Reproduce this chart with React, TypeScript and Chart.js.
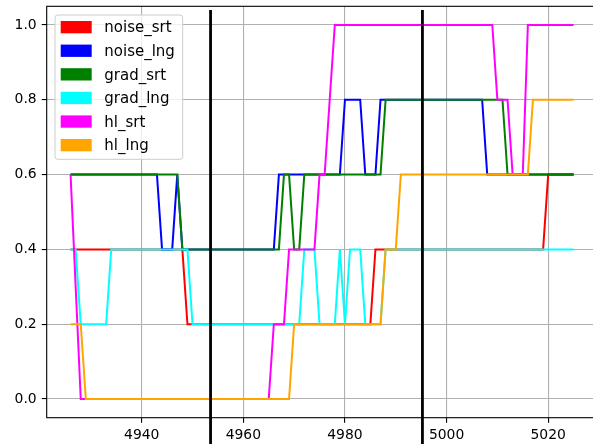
import React, { useEffect, useRef } from "react";
import { Chart, registerables } from "chart.js";

Chart.register(...registerables);

const steps = [
  4926, 4927, 4928, 4929, 4930, 4931, 4932, 4933, 4934, 4935,
  4936, 4937, 4938, 4939, 4940, 4941, 4942, 4943, 4944, 4945,
  4946, 4947, 4948, 4949, 4950, 4951, 4952, 4953, 4954, 4955,
  4956, 4957, 4958, 4959, 4960, 4961, 4962, 4963, 4964, 4965,
  4966, 4967, 4968, 4969, 4970, 4971, 4972, 4973, 4974, 4975,
  4976, 4977, 4978, 4979, 4980, 4981, 4982, 4983, 4984, 4985,
  4986, 4987, 4988, 4989, 4990, 4991, 4992, 4993, 4994, 4995,
  4996, 4997, 4998, 4999, 5000, 5001, 5002, 5003, 5004, 5005,
  5006, 5007, 5008, 5009, 5010, 5011, 5012, 5013, 5014, 5015,
  5016, 5017, 5018, 5019, 5020, 5021, 5022, 5023, 5024, 5025,
];

const noiseSrt = [
  0.4, 0.4, 0.4, 0.4, 0.4, 0.4, 0.4, 0.4, 0.4, 0.4,
  0.4, 0.4, 0.4, 0.4, 0.4, 0.4, 0.4, 0.4, 0.4, 0.4,
  0.4, 0.4, 0.4, 0.2, 0.2, 0.2, 0.2, 0.2, 0.2, 0.2,
  0.2, 0.2, 0.2, 0.2, 0.2, 0.2, 0.2, 0.2, 0.2, 0.2,
  0.2, 0.2, 0.2, 0.2, 0.2, 0.2, 0.2, 0.2, 0.2, 0.2,
  0.2, 0.2, 0.2, 0.2, 0.2, 0.2, 0.2, 0.2, 0.2, 0.2,
  0.4, 0.4, 0.4, 0.4, 0.4, 0.4, 0.4, 0.4, 0.4, 0.4,
  0.4, 0.4, 0.4, 0.4, 0.4, 0.4, 0.4, 0.4, 0.4, 0.4,
  0.4, 0.4, 0.4, 0.4, 0.4, 0.4, 0.4, 0.4, 0.4, 0.4,
  0.4, 0.4, 0.4, 0.4, 0.6, 0.6, 0.6, 0.6, 0.6, 0.6,
];

const noiseLng = [
  0.6, 0.6, 0.6, 0.6, 0.6, 0.6, 0.6, 0.6, 0.6, 0.6,
  0.6, 0.6, 0.6, 0.6, 0.6, 0.6, 0.6, 0.6, 0.4, 0.4,
  0.4, 0.6, 0.4, 0.4, 0.4, 0.4, 0.4, 0.4, 0.4, 0.4,
  0.4, 0.4, 0.4, 0.4, 0.4, 0.4, 0.4, 0.4, 0.4, 0.4,
  0.4, 0.6, 0.6, 0.6, 0.6, 0.6, 0.6, 0.6, 0.6, 0.6,
  0.6, 0.6, 0.6, 0.6, 0.8, 0.8, 0.8, 0.8, 0.6, 0.6,
  0.6, 0.8, 0.8, 0.8, 0.8, 0.8, 0.8, 0.8, 0.8, 0.8,
  0.8, 0.8, 0.8, 0.8, 0.8, 0.8, 0.8, 0.8, 0.8, 0.8,
  0.8, 0.8, 0.6, 0.6, 0.6, 0.6, 0.6, 0.6, 0.6, 0.6,
  0.6, 0.6, 0.6, 0.6, 0.6, 0.6, 0.6, 0.6, 0.6, 0.6,
];

const gradSrt = [
  0.6, 0.6, 0.6, 0.6, 0.6, 0.6, 0.6, 0.6, 0.6, 0.6,
  0.6, 0.6, 0.6, 0.6, 0.6, 0.6, 0.6, 0.6, 0.6, 0.6,
  0.6, 0.6, 0.4, 0.4, 0.4, 0.4, 0.4, 0.4, 0.4, 0.4,
  0.4, 0.4, 0.4, 0.4, 0.4, 0.4, 0.4, 0.4, 0.4, 0.4,
  0.4, 0.4, 0.6, 0.6, 0.4, 0.4, 0.6, 0.6, 0.6, 0.6,
  0.6, 0.6, 0.6, 0.6, 0.6, 0.6, 0.6, 0.6, 0.6, 0.6,
  0.6, 0.6, 0.8, 0.8, 0.8, 0.8, 0.8, 0.8, 0.8, 0.8,
  0.8, 0.8, 0.8, 0.8, 0.8, 0.8, 0.8, 0.8, 0.8, 0.8,
  0.8, 0.8, 0.8, 0.8, 0.8, 0.8, 0.6, 0.6, 0.6, 0.6,
  0.6, 0.6, 0.6, 0.6, 0.6, 0.6, 0.6, 0.6, 0.6, 0.6,
];

const gradLng = [
  0.4, 0.4, 0.2, 0.2, 0.2, 0.2, 0.2, 0.2, 0.4, 0.4,
  0.4, 0.4, 0.4, 0.4, 0.4, 0.4, 0.4, 0.4, 0.4, 0.4,
  0.4, 0.4, 0.4, 0.4, 0.2, 0.2, 0.2, 0.2, 0.2, 0.2,
  0.2, 0.2, 0.2, 0.2, 0.2, 0.2, 0.2, 0.2, 0.2, 0.2,
  0.2, 0.2, 0.2, 0.2, 0.2, 0.2, 0.4, 0.4, 0.4, 0.2,
  0.2, 0.2, 0.2, 0.4, 0.2, 0.4, 0.4, 0.4, 0.2, 0.2,
  0.2, 0.2, 0.4, 0.4, 0.4, 0.4, 0.4, 0.4, 0.4, 0.4,
  0.4, 0.4, 0.4, 0.4, 0.4, 0.4, 0.4, 0.4, 0.4, 0.4,
  0.4, 0.4, 0.4, 0.4, 0.4, 0.4, 0.4, 0.4, 0.4, 0.4,
  0.4, 0.4, 0.4, 0.4, 0.4, 0.4, 0.4, 0.4, 0.4, 0.4,
];

const hlSrt = [
  0.6, 0.3, 0, 0, 0, 0, 0, 0, 0, 0,
  0, 0, 0, 0, 0, 0, 0, 0, 0, 0,
  0, 0, 0, 0, 0, 0, 0, 0, 0, 0,
  0, 0, 0, 0, 0, 0, 0, 0, 0, 0,
  0.2, 0.2, 0.2, 0.4, 0.4, 0.4, 0.4, 0.4, 0.4, 0.6,
  0.6, 0.8, 1, 1, 1, 1, 1, 1, 1, 1,
  1, 1, 1, 1, 1, 1, 1, 1, 1, 1,
  1, 1, 1, 1, 1, 1, 1, 1, 1, 1,
  1, 1, 1, 1, 0.8, 0.8, 0.8, 0.6, 0.6, 0.6,
  1, 1, 1, 1, 1, 1, 1, 1, 1, 1,
];

const hlLng = [
  0.2, 0.2, 0.2, 0, 0, 0, 0, 0, 0, 0,
  0, 0, 0, 0, 0, 0, 0, 0, 0, 0,
  0, 0, 0, 0, 0, 0, 0, 0, 0, 0,
  0, 0, 0, 0, 0, 0, 0, 0, 0, 0,
  0, 0, 0, 0, 0.2, 0.2, 0.2, 0.2, 0.2, 0.2,
  0.2, 0.2, 0.2, 0.2, 0.2, 0.2, 0.2, 0.2, 0.2, 0.2,
  0.2, 0.2, 0.4, 0.4, 0.4, 0.6, 0.6, 0.6, 0.6, 0.6,
  0.6, 0.6, 0.6, 0.6, 0.6, 0.6, 0.6, 0.6, 0.6, 0.6,
  0.6, 0.6, 0.6, 0.6, 0.6, 0.6, 0.6, 0.6, 0.6, 0.6,
  0.6, 0.8, 0.8, 0.8, 0.8, 0.8, 0.8, 0.8, 0.8, 0.8,
];

const seriesNames = ["noise_srt", "noise_lng", "grad_srt", "grad_lng", "hl_srt", "hl_lng"];
const seriesColors = ["#ff0000", "#0000ff", "#008000", "#00ffff", "#ff00ff", "#ffa500"];
const xTicks = [4940, 4960, 4980, 5000, 5020];
const yTicks = [0, 0.2, 0.4, 0.6, 0.8, 1.0];
const markerXs = [4953.55, 4995.25];
const markerTop = 1.04;

const FONT = "'DejaVu Sans', sans-serif";
const FS = 13.9;
const LEGEND_FS = 15;

export default function App() {
  const ref = useRef<HTMLCanvasElement>(null);

  useEffect(() => {
    const canvas = ref.current!;
    const seriesData = [noiseSrt, noiseLng, gradSrt, gradLng, hlSrt, hlLng];

    const overlay = {
      id: "overlay",
      afterDatasetsDraw(chart: any) {
        const { ctx, chartArea: a, scales } = chart;
        ctx.save();
        ctx.strokeStyle = "#000";
        ctx.lineWidth = 2.8;
        for (const v of markerXs) {
          const x = scales.x.getPixelForValue(v);
          ctx.beginPath();
          ctx.moveTo(x, scales.y.getPixelForValue(markerTop));
          ctx.lineTo(x, chart.height);
          ctx.stroke();
        }
        ctx.lineWidth = 1.1;
        ctx.strokeRect(a.left, a.top, a.right - a.left, a.bottom - a.top);
        ctx.restore();
      },
      afterDraw(chart: any) {
        const { ctx, chartArea: a } = chart;
        const lx = a.left + 8.3;
        const ly = a.top + 8.7;
        const w = 127.7;
        const h = 144.3;
        ctx.save();
        ctx.beginPath();
        ctx.roundRect(lx, ly, w, h, 2.8);
        ctx.fillStyle = "rgba(255,255,255,0.8)";
        ctx.fill();
        ctx.strokeStyle = "#cccccc";
        ctx.lineWidth = 1;
        ctx.stroke();
        ctx.font = `${LEGEND_FS}px ${FONT}`;
        ctx.textBaseline = "alphabetic";
        ctx.textAlign = "left";
        seriesNames.forEach((name, i) => {
          const rowY = ly + 6 + i * 23.6;
          ctx.fillStyle = seriesColors[i];
          ctx.fillRect(lx + 5.7, rowY, 31, 12.3);
          ctx.fillStyle = "#000";
          ctx.fillText(name, lx + 49.3, rowY + 11.3);
        });
        ctx.restore();
      },
    };

    const chart = new Chart(canvas, {
      type: "line",
      data: {
        datasets: seriesNames.map((name, i) => ({
          label: name,
          data: steps.map((x, j) => ({ x, y: seriesData[i][j] })),
          borderColor: seriesColors[i],
          backgroundColor: seriesColors[i],
          borderWidth: 2,
          pointRadius: 0,
          tension: 0,
          fill: false,
          order: seriesNames.length - 1 - i,
        })),
      },
      options: {
        animation: false,
        responsive: false,
        devicePixelRatio: 1,
        layout: { padding: { top: 6.3, left: 0, right: 0, bottom: 0 } },
        plugins: { legend: { display: false }, tooltip: { enabled: false } },
        scales: {
          x: {
            type: "linear",
            min: 4921.3,
            max: 5030,
            afterBuildTicks: (s: any) => {
              s.ticks = xTicks.map((v) => ({ value: v }));
            },
            afterFit: (s: any) => {
              s.height = 26.3;
              s.paddingLeft = 0;
              s.paddingRight = 0;
            },
            grid: { color: "#b0b0b0", lineWidth: 1.1, tickColor: "#000", tickLength: 5, tickWidth: 1.1 },
            border: { display: false },
            ticks: {
              autoSkip: false,
              maxRotation: 0,
              padding: 4,
              color: "#000",
              font: { family: FONT, size: FS },
              callback: (v: any) => String(v),
            },
          },
          y: {
            type: "linear",
            min: -0.05,
            max: 1.05,
            afterBuildTicks: (s: any) => {
              s.ticks = yTicks.map((v) => ({ value: v }));
            },
            afterFit: (s: any) => {
              s.width = 46.7;
              s.paddingTop = 0;
              s.paddingBottom = 0;
            },
            grid: { color: "#b0b0b0", lineWidth: 1.1, tickColor: "#000", tickLength: 5, tickWidth: 1.1 },
            border: { display: false },
            ticks: {
              autoSkip: false,
              padding: 5,
              color: "#000",
              font: { family: FONT, size: FS },
              callback: (v: any) => Number(v).toFixed(1),
            },
          },
        },
      },
      plugins: [overlay],
    });

    return () => chart.destroy();
  }, []);

  return (
    <div
      style={{
        position: "fixed",
        left: 0,
        top: 0,
        width: 593,
        height: 444,
        overflow: "hidden",
        background: "#fff",
      }}
    >
      <canvas ref={ref} width={599} height={444} style={{ display: "block" }} />
    </div>
  );
}
